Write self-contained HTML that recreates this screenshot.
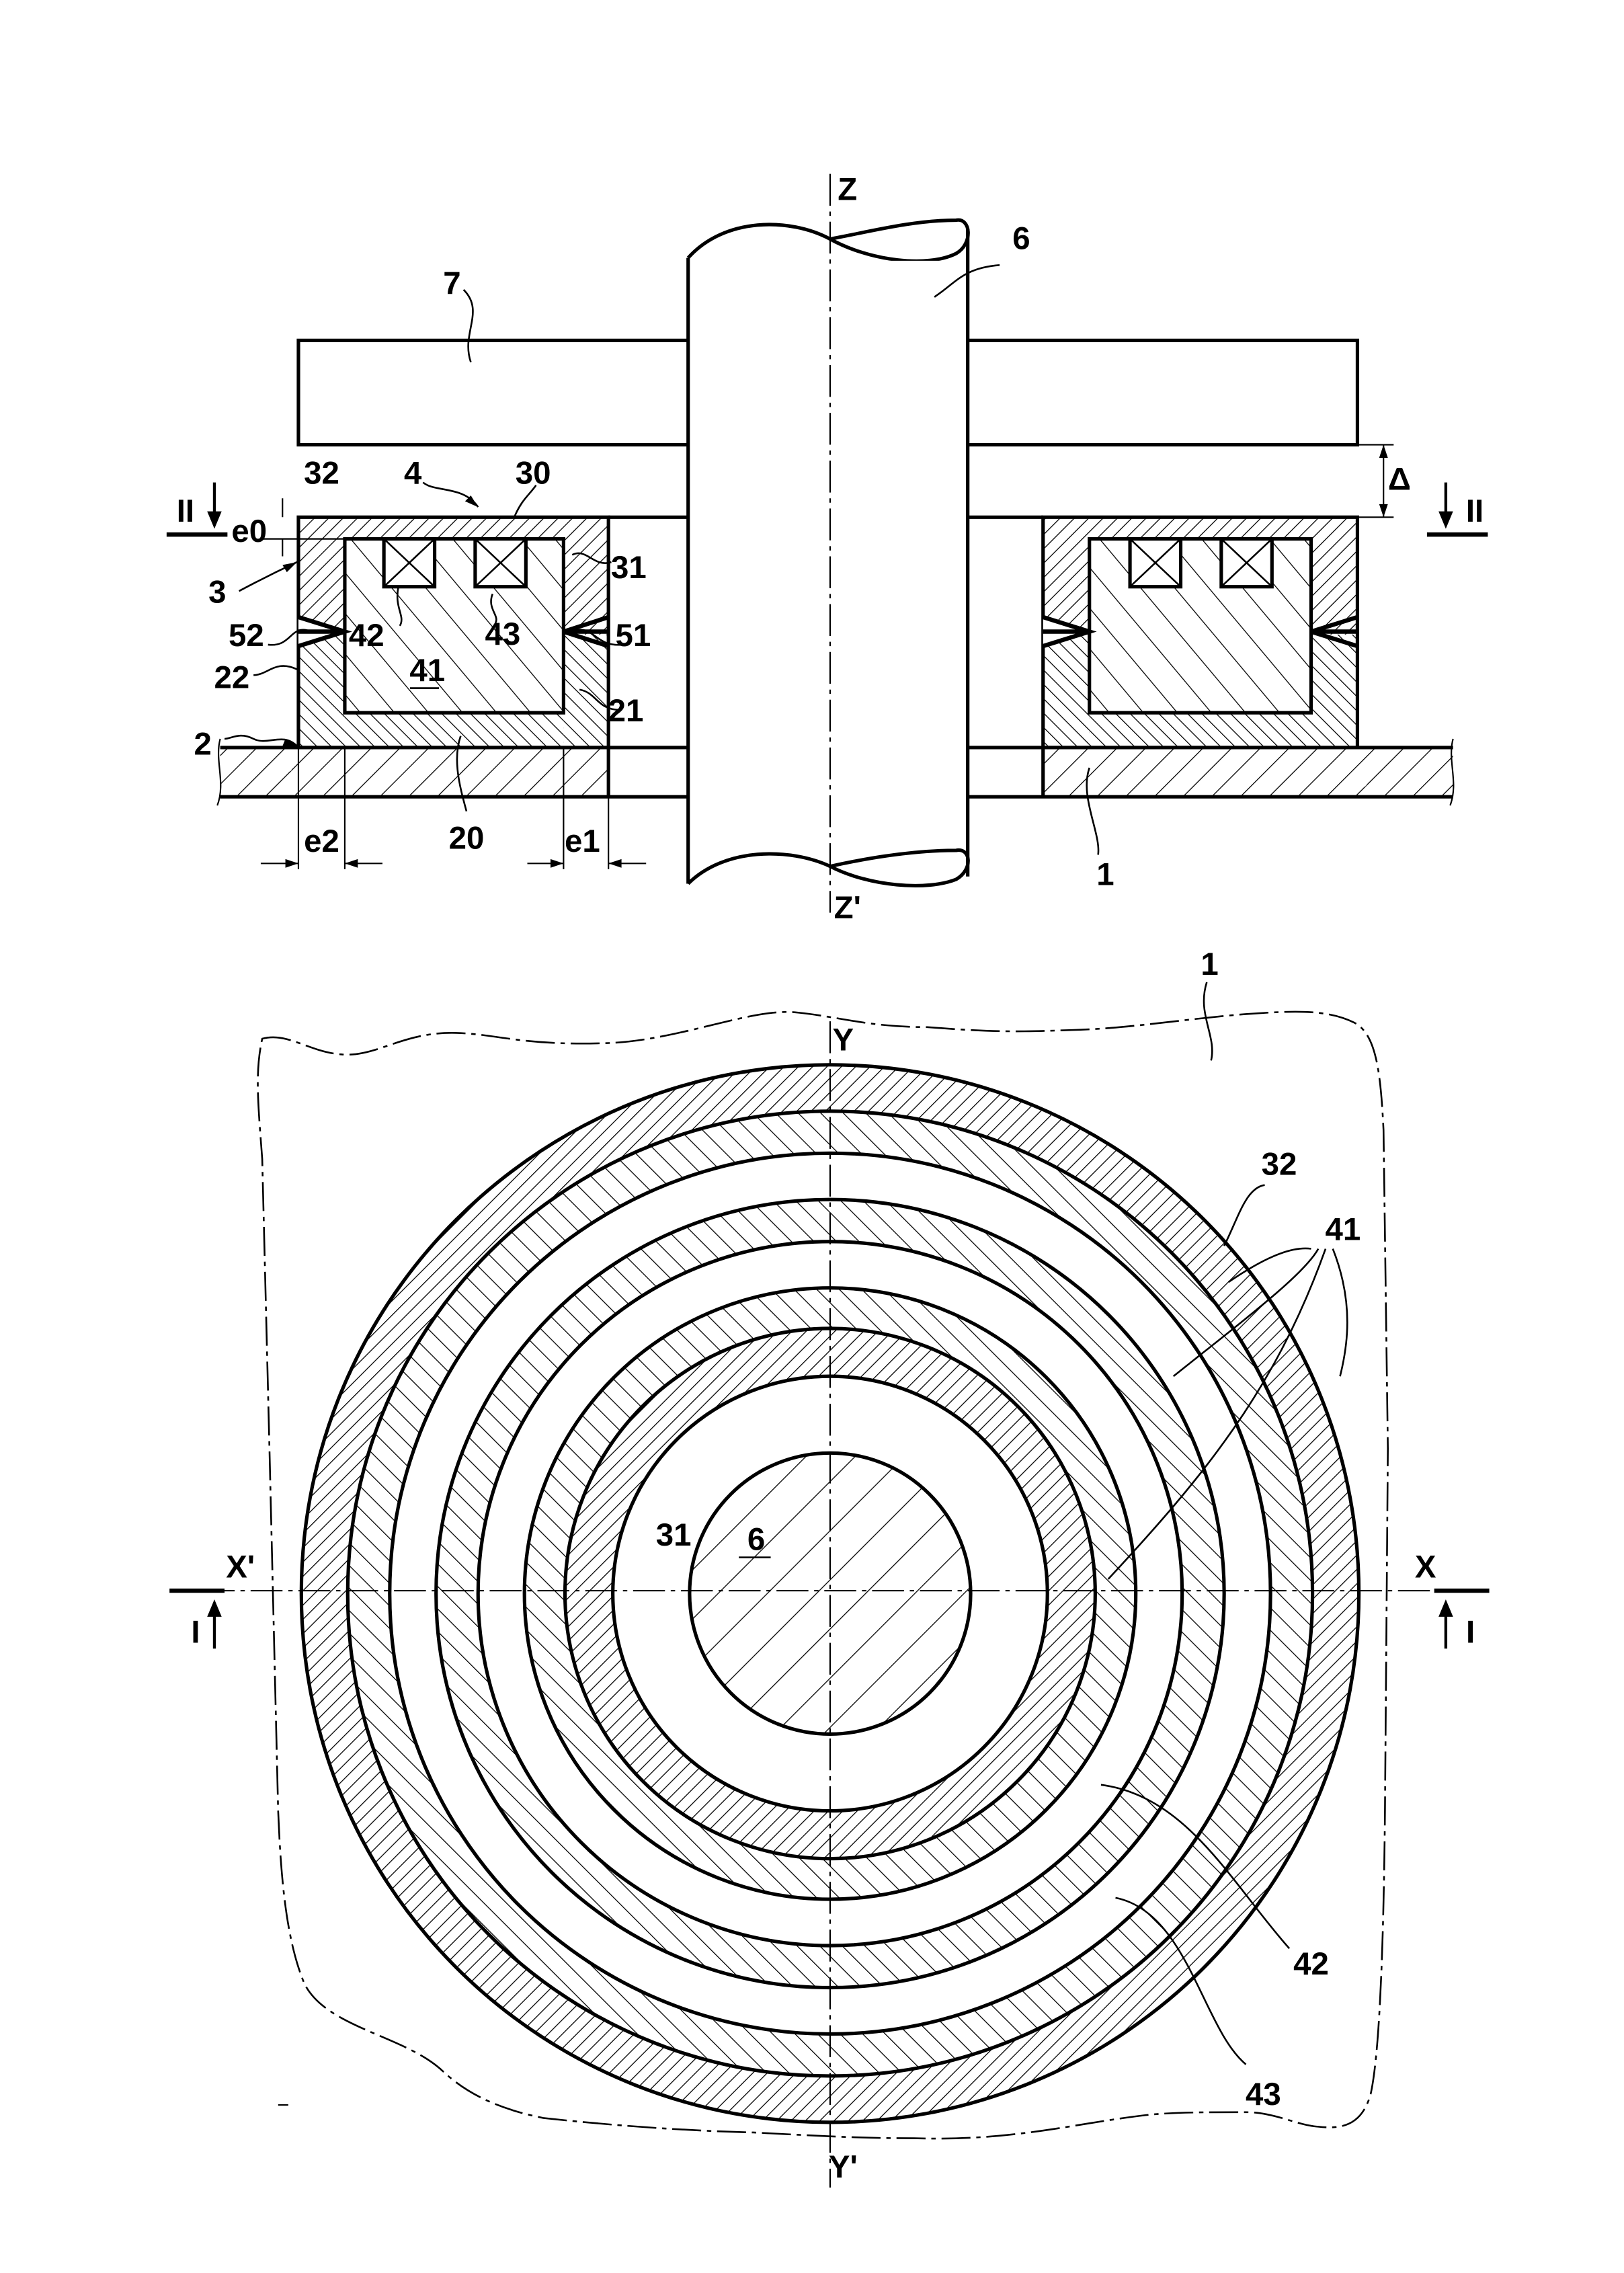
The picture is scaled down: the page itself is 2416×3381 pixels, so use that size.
<!DOCTYPE html>
<html><head><meta charset="utf-8"><style>html,body{margin:0;padding:0;background:#fff}svg{display:block}text{font-family:"Liberation Sans Narrow","Liberation Sans",sans-serif;font-weight:bold;font-size:22px;fill:#000}</style></head><body>
<svg width="2416" height="3381" viewBox="0 0 1121 1569" preserveAspectRatio="none" xmlns="http://www.w3.org/2000/svg">
<defs>
<pattern id="d1" patternUnits="userSpaceOnUse" width="7" height="7" patternTransform="rotate(45)"><line x1="0" y1="0" x2="0" y2="7" stroke="#000" stroke-width="1.2"/></pattern>
<pattern id="d2" patternUnits="userSpaceOnUse" width="7" height="7" patternTransform="rotate(-45)"><line x1="0" y1="0" x2="0" y2="7" stroke="#000" stroke-width="1.2"/></pattern>
<pattern id="s2" patternUnits="userSpaceOnUse" width="18" height="18" patternTransform="rotate(-40)"><line x1="0" y1="0" x2="0" y2="18" stroke="#000" stroke-width="1.2"/></pattern>
<pattern id="p1" patternUnits="userSpaceOnUse" width="14" height="14" patternTransform="rotate(45)"><line x1="0" y1="0" x2="0" y2="14" stroke="#000" stroke-width="1.2"/></pattern>
<pattern id="r2" patternUnits="userSpaceOnUse" width="11" height="11" patternTransform="rotate(-45)"><line x1="0" y1="0" x2="0" y2="11" stroke="#000" stroke-width="1.2"/></pattern>
<pattern id="sh" patternUnits="userSpaceOnUse" width="24" height="24" patternTransform="rotate(45)"><line x1="0" y1="0" x2="0" y2="24" stroke="#000" stroke-width="1.2"/></pattern>
</defs>
<g fill="none" stroke="#000" stroke-width="2.4">
<path d="M475,235H206V307H475M668,235H937V307H668"/>
<rect x="152" y="516" width="268" height="34" fill="url(#p1)" stroke="none"/>
<rect x="720" y="516" width="283" height="34" fill="url(#p1)" stroke="none"/>
<path d="M152,516H475M152,550H475M668,516H1003M668,550H1003M420,516V550M720,516V550"/>
<path d="M152,510 C148,525 156,540 150,556 M1003,510 C999,525 1007,540 1001,556" stroke-width="1"/>
<path d="M206,357H420V516H206Z M238,372H389V492H238Z" fill="url(#d1)" fill-rule="evenodd" stroke="none"/>
<rect x="206" y="438" width="32" height="78" fill="#fff" stroke="none"/>
<rect x="389" y="438" width="31" height="78" fill="#fff" stroke="none"/>
<rect x="206" y="438" width="32" height="78" fill="url(#d2)" stroke="none"/>
<rect x="389" y="438" width="31" height="78" fill="url(#d2)" stroke="none"/>
<rect x="238" y="492" width="151" height="24" fill="#fff" stroke="none"/>
<rect x="238" y="492" width="151" height="24" fill="url(#d2)" stroke="none"/>
<rect x="238" y="372" width="151" height="120" fill="url(#s2)"/>
<rect x="206" y="357" width="214" height="159"/>
<path d="M420,357H475"/>
<rect x="265" y="372" width="35" height="33" fill="#fff"/><path d="M265,372L300,405M300,372L265,405" stroke-width="1.2"/>
<rect x="328" y="372" width="35" height="33" fill="#fff"/><path d="M328,372L363,405M363,372L328,405" stroke-width="1.2"/>
<path d="M206,426L238,436L206,446M389,436L420,426M389,436L420,446M206,436H238M389,436H420" fill="#fff" stroke-width="3"/>
<path d="M720,357H937V516H720Z M752,372H905V492H752Z" fill="url(#d1)" fill-rule="evenodd" stroke="none"/>
<rect x="720" y="438" width="32" height="78" fill="#fff" stroke="none"/>
<rect x="905" y="438" width="32" height="78" fill="#fff" stroke="none"/>
<rect x="752" y="492" width="153" height="24" fill="#fff" stroke="none"/>
<rect x="720" y="438" width="32" height="78" fill="url(#d2)" stroke="none"/>
<rect x="905" y="438" width="32" height="78" fill="url(#d2)" stroke="none"/>
<rect x="752" y="492" width="153" height="24" fill="url(#d2)" stroke="none"/>
<rect x="752" y="372" width="153" height="120" fill="url(#s2)"/>
<rect x="720" y="357" width="217" height="159"/>
<path d="M668,357H720"/>
<rect x="780" y="372" width="35" height="33" fill="#fff"/><path d="M780,372L815,405M815,372L780,405" stroke-width="1.2"/>
<rect x="843" y="372" width="35" height="33" fill="#fff"/><path d="M843,372L878,405M878,372L843,405" stroke-width="1.2"/>
<path d="M720,426L752,436L720,446M905,436L937,426M905,436L937,446M720,436H752M905,436H937" fill="#fff" stroke-width="3"/>
<path d="M475,178 C500,150 545,150 573,165 C600,180 640,185 660,175 C672,168 670,150 660,152 C630,152 600,160 573,165" />
<path d="M475,610 C500,585 545,585 573,598 C600,612 640,615 660,607 C672,600 670,585 660,587 C630,587 600,592 573,598"/>
<rect x="477" y="180" width="189" height="55" fill="#fff" stroke="none"/>
<path d="M475,178V610M668,158V605"/>
<path d="M206,516V600M238,516V600M389,516V600M420,550V600" stroke-width="1"/>
<path d="M180,596H206M238,596H264M364,596H389M420,596H446" stroke-width="1"/>
<path d="M206,596l-9,-3v6z M238,596l9,-3v6z M389,596l-9,-3v6z M420,596l9,-3v6z" fill="#000" stroke="none"/>
<path d="M937,307H962M937,357H962M955,307V357" stroke-width="1"/>
<path d="M955,307l-3,9h6z M955,357l-3,-9h6z" fill="#000" stroke="none"/>
<path d="M180,372H238M195,344V357M195,372V384" stroke-width="1"/>
<path d="M115,369H157M985,369H1027" stroke-width="3"/>
<path d="M148,333V357M998,333V357" stroke-width="2"/>
<path d="M148,365l-5,-12h10z M998,365l-5,-12h10z" fill="#000" stroke="none"/>
<path d="M573,120V630" stroke-width="1" stroke-dasharray="22,4,3,4"/>
<g stroke-width="1.2">
<path d="M645,205 C660,195 665,185 690,183"/>
<path d="M325,250 C318,230 335,215 320,200"/>
<path d="M330,350 C320,335 300,340 292,333"/>
<path d="M355,357 C360,345 365,342 370,335"/>
<path d="M205,388 C190,395 180,400 165,408"/>
<path d="M395,383 C405,378 410,392 422,388"/>
<path d="M215,436 C200,430 202,447 185,445"/>
<path d="M395,436 C410,430 410,447 430,445"/>
<path d="M275,405 C272,420 280,425 276,432"/>
<path d="M340,410 C336,420 345,425 342,430"/>
<path d="M205,462 C190,455 185,466 175,466"/>
<path d="M400,476 C412,478 412,490 428,490"/>
<path d="M205,515 C195,505 185,515 175,510 C165,505 160,510 155,510"/>
<path d="M318,508 C312,525 318,545 322,560"/>
<path d="M752,530 C745,550 760,575 758,590"/>
<path d="M283,475H303"/>
</g>
<path d="M205,388l-10,2l3,5z M205,515l-8,-5l-2,5z M330,350l-5,-8l-4,4z" fill="#000" stroke="none"/>
</g>
<g text-anchor="middle">
<text x="585" y="138">Z</text><text x="585" y="634">Z'</text>
<text x="705" y="172">6</text><text x="312" y="203">7</text>
<text x="222" y="334">32</text><text x="285" y="334">4</text><text x="368" y="334">30</text>
<text x="966" y="338" font-weight="normal" font-family="Liberation Serif,serif">Δ</text>
<text x="128" y="360" font-family="Liberation Serif,serif" font-weight="normal">II</text>
<text x="1018" y="360" font-family="Liberation Serif,serif" font-weight="normal">II</text>
<text x="172" y="374">e0</text><text x="150" y="416">3</text><text x="434" y="399">31</text>
<text x="170" y="446">52</text><text x="253" y="446">42</text><text x="347" y="445">43</text><text x="437" y="446">51</text>
<text x="295" y="470">41</text><text x="160" y="475">22</text><text x="432" y="498">21</text>
<text x="140" y="521">2</text><text x="322" y="586">20</text><text x="222" y="588">e2</text><text x="402" y="588">e1</text>
<text x="763" y="611">1</text>
</g>
<g fill="none" stroke="#000">
<path d="M181,717 C200,712 215,728 240,728 C262,728 280,712 315,713 C345,714 360,722 420,720 C470,718 520,695 551,699 C580,702 600,709 640,709 C690,713 710,712 740,711 C780,710 820,703 860,700 C890,698 915,696 935,706 C950,714 953,740 955,780 L958,1000 L956,1250 C955,1350 952,1420 946,1446 C940,1466 928,1470 910,1468 C895,1467 880,1458 860,1458 C830,1458 810,1458 791,1460 C740,1466 700,1478 631,1476 C590,1476 560,1474 520,1472 C480,1471 430,1468 375,1462 C340,1455 320,1443 306,1430 C280,1405 225,1400 210,1369 C198,1340 194,1300 192,1250 L186,1000 L181,800 C178,760 176,740 181,717Z" stroke-width="1.2" stroke-dasharray="20,4,3,4"/>
<circle cx="573" cy="1100" r="349" stroke="url(#d1)" stroke-width="32"/>
<circle cx="573" cy="1100" r="318.5" stroke="url(#r2)" stroke-width="29"/>
<circle cx="573" cy="1100" r="257.5" stroke="url(#r2)" stroke-width="29"/>
<circle cx="573" cy="1100" r="197" stroke="url(#r2)" stroke-width="28"/>
<circle cx="573" cy="1100" r="166.5" stroke="url(#d1)" stroke-width="33"/>
<circle cx="573" cy="1100" r="97" fill="url(#sh)"/>
<g stroke-width="2.4">
<circle cx="573" cy="1100" r="365"/><circle cx="573" cy="1100" r="333"/><circle cx="573" cy="1100" r="304"/>
<circle cx="573" cy="1100" r="272"/><circle cx="573" cy="1100" r="243"/><circle cx="573" cy="1100" r="211"/>
<circle cx="573" cy="1100" r="183"/><circle cx="573" cy="1100" r="150"/><circle cx="573" cy="1100" r="97"/>
</g>
<path d="M573,705V1510M140,1098H990" stroke-width="1" stroke-dasharray="22,4,3,4"/>
<path d="M117,1098H155M990,1098H1028" stroke-width="3"/>
<path d="M148,1138V1112M998,1138V1112" stroke-width="2"/>
<g stroke-width="1.2">
<path d="M833,678 C826,700 840,715 836,732"/>
<path d="M845,860 C855,840 860,820 873,818"/>
<path d="M848,885 C870,870 890,860 905,862"/>
<path d="M810,950 C860,910 900,880 910,862"/>
<path d="M765,1090 C830,1020 880,960 915,862 M920,862 C935,900 930,930 925,950"/>
<path d="M760,1232 C820,1240 850,1300 890,1345"/>
<path d="M770,1310 C820,1320 830,1400 860,1425"/>
<path d="M510,1075H532"/>
</g>
</g>
<path d="M148,1104l-5,12h10z M998,1104l-5,12h10z" fill="#000"/>
<g text-anchor="middle" font-size="20">
<text x="835" y="673">1</text><text x="582" y="725">Y</text><text x="582" y="1503">Y'</text>
<text x="883" y="811">32</text><text x="927" y="856">41</text>
<text x="465" y="1067">31</text><text x="522" y="1070">6</text>
<text x="166" y="1089">X'</text><text x="984" y="1089">X</text>
<text x="135" y="1134" font-family="Liberation Serif,serif" font-weight="normal">I</text>
<text x="1015" y="1134" font-family="Liberation Serif,serif" font-weight="normal">I</text>
<text x="905" y="1363">42</text><text x="872" y="1453">43</text>
</g>
<path d="M192,1453H199" stroke="#000" stroke-width="1"/>
</svg>
</body></html>
